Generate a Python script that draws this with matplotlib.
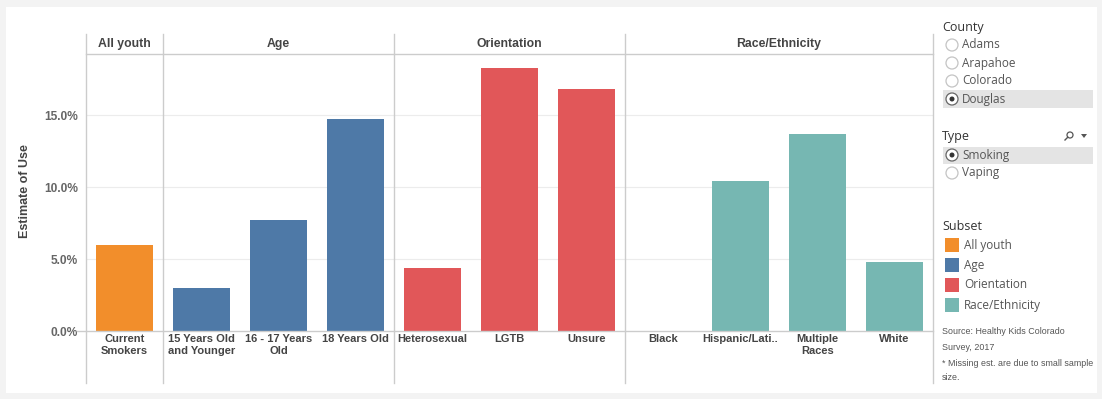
import matplotlib
matplotlib.use("Agg")
import matplotlib.pyplot as plt
import numpy as np
from matplotlib.patches import Rectangle, Ellipse, Polygon
from matplotlib.lines import Line2D

# ---- data ----
groups = ["All youth", "Age", "Orientation", "Race/Ethnicity"]
group_sizes = [1, 3, 3, 4]
categories = ["Current\nSmokers", "15 Years Old\nand Younger", "16 - 17 Years\nOld", "18 Years Old",
              "Heterosexual", "LGTB", "Unsure",
              "Black", "Hispanic/Lati..", "Multiple\nRaces", "White"]
values = [6.0, 3.0, 7.7, 14.7, 4.4, 18.3, 16.8, np.nan, 10.4, 13.7, 4.8]
group_colors = ["#F28E2B", "#4E79A7", "#E15759", "#76B7B2"]
yticks = [0, 5, 10, 15]
ytick_labels = ["0.0%", "5.0%", "10.0%", "15.0%"]
county_options = ["Adams", "Arapahoe", "Colorado", "Douglas"]
county_selected = "Douglas"
type_options = ["Smoking", "Vaping"]
type_selected = "Smoking"
source_lines = ["Source: Healthy Kids Colorado", "Survey, 2017",
                "* Missing est. are due to small sample", "size."]

W, H = 1102, 399
fig = plt.figure(figsize=(W / 100, H / 100), dpi=100)
fig.patch.set_facecolor("#f3f3f3")

def fx(x):
    return x / W

def fy(y):
    return 1 - y / H

# white card
fig.add_artist(Rectangle((fx(6), fy(393)), fx(1097) - fx(6), fy(7) - fy(393),
                         transform=fig.transFigure, facecolor="white", edgecolor="none", zorder=0))

FONT = "Liberation Sans"
LFONT = "Open Sans"

left_px, right_px, top_px, zero_px = 86, 933, 54, 331
ax = fig.add_axes([fx(left_px), fy(zero_px), fx(right_px) - fx(left_px), fy(top_px) - fy(zero_px)])
ax.set_facecolor("none")
n = len(categories)
ax.set_xlim(-0.5, n - 0.5)
ax.set_ylim(0, 19.25)

bar_colors = []
for g, s in enumerate(group_sizes):
    bar_colors += [group_colors[g]] * s
x = np.arange(n)
ax.bar(x, np.nan_to_num(values), width=0.75, color=bar_colors, zorder=3)

for t in yticks[1:]:
    ax.axhline(t, color="#ececec", lw=0.8, zorder=1)
for s in ax.spines.values():
    s.set_visible(False)
ax.set_xticks([])
ax.set_yticks(yticks)
ax.set_yticklabels(ytick_labels, fontfamily=FONT, fontsize=8.6, fontweight="bold", color="#666666")
ax.tick_params(axis="y", length=0, pad=5.5)

# zero line
fig.add_artist(Line2D([fx(77), fx(right_px)], [fy(zero_px), fy(zero_px)], transform=fig.transFigure,
                      color="#cccccc", lw=1))
# header bottom line
fig.add_artist(Line2D([fx(left_px), fx(right_px)], [fy(top_px), fy(top_px)], transform=fig.transFigure,
                      color="#cccccc", lw=1))

# vertical separators and group headers
bounds = np.concatenate([[0], np.cumsum(group_sizes)]) - 0.5
for b in bounds:
    xf = ax.transData.transform((b, 0))[0] / fig.bbox.width
    fig.add_artist(Line2D([xf, xf], [fy(383), fy(34)], transform=fig.transFigure, color="#cccccc", lw=1))
for g, name in enumerate(groups):
    mid = (bounds[g] + bounds[g + 1]) / 2
    xf = ax.transData.transform((mid, 0))[0] / fig.bbox.width
    fig.text(xf, fy(44), name, ha="center", va="center", fontfamily=FONT, fontsize=8.8,
             fontweight="bold", color="#444444")

# category labels
for i, lab in enumerate(categories):
    xf = ax.transData.transform((i, 0))[0] / fig.bbox.width
    fig.text(xf, fy(334.5), lab, ha="center", va="top", fontfamily=FONT, fontsize=8,
             fontweight="bold", color="#444444", linespacing=1.2)

# y axis title
fig.text(fx(25), fy(191), "Estimate of Use", rotation=90, ha="center", va="center",
         fontfamily=FONT, fontsize=9, fontweight="bold", color="#444444")

# ---- right panel ----
def radio(yc, label, selected):
    if selected:
        fig.add_artist(Rectangle((fx(943), fy(yc + 8.5)), fx(1093) - fx(943), fy(yc - 8.5) - fy(yc + 8.5),
                                 transform=fig.transFigure, facecolor="#e4e4e4", edgecolor="none"))
    fig.add_artist(Ellipse((fx(952), fy(yc)), width=12 / W, height=12 / H, transform=fig.transFigure,
                           facecolor="white", edgecolor="#666666" if selected else "#c4c4c4", lw=0.9))
    if selected:
        fig.add_artist(Ellipse((fx(952), fy(yc)), width=5 / W, height=5 / H, transform=fig.transFigure,
                               facecolor="#333333", edgecolor="none"))
    fig.text(fx(962), fy(yc), label, ha="left", va="center", fontfamily=LFONT, fontsize=8.5,
             color="#555555")

fig.text(fx(942), fy(28), "County", ha="left", va="center", fontfamily=LFONT, fontsize=9, color="#333333")
for i, c in enumerate(county_options):
    radio(45 + 18 * i, c, c == county_selected)

fig.text(fx(942), fy(137), "Type", ha="left", va="center", fontfamily=LFONT, fontsize=9, color="#333333")
# search icon
fig.add_artist(Ellipse((fx(1070), fy(135)), width=6 / W, height=6 / H, transform=fig.transFigure,
                       facecolor="none", edgecolor="#555555", lw=0.9))
fig.add_artist(Line2D([fx(1067.8), fx(1065)], [fy(137.2), fy(140)], transform=fig.transFigure,
                      color="#555555", lw=1))
fig.add_artist(Polygon([[fx(1081), fy(134)], [fx(1087), fy(134)], [fx(1084), fy(138)]], closed=True,
                       transform=fig.transFigure, facecolor="#555555", edgecolor="none"))
for i, t in enumerate(type_options):
    radio(155 + 18 * i, t, t == type_selected)

fig.text(fx(942), fy(227), "Subset", ha="left", va="center", fontfamily=LFONT, fontsize=9, color="#333333")
for i, g in enumerate(groups):
    yc = 245 + 20 * i
    fig.add_artist(Rectangle((fx(945), fy(yc + 7)), fx(959) - fx(945), fy(yc - 7) - fy(yc + 7),
                             transform=fig.transFigure, facecolor=group_colors[i], edgecolor="none"))
    fig.text(fx(964), fy(yc), g, ha="left", va="center", fontfamily=LFONT, fontsize=8.5, color="#555555")

for i, (yy, line) in enumerate(zip([331, 348, 364, 378], source_lines)):
    fig.text(fx(942), fy(yy), line, ha="left", va="center", fontfamily=FONT, fontsize=6.4, color="#555555")

fig.savefig("out.png", dpi=100, facecolor=fig.get_facecolor())
